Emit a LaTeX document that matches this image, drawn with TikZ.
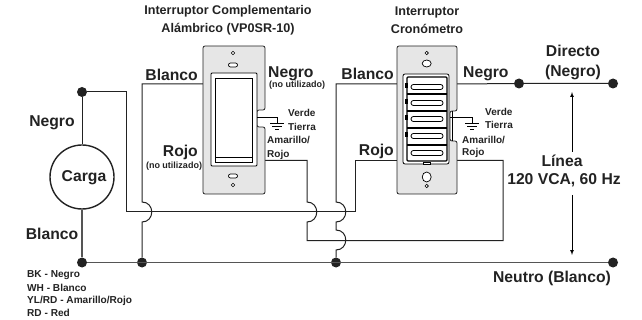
\documentclass[tikz,border=0pt]{standalone}
\usepackage{fontspec}
\setmainfont{Liberation Sans}
\definecolor{plategray}{HTML}{E6E6E6}
\definecolor{inkgray}{HTML}{222222}
\definecolor{wiregray}{HTML}{555555}
\tikzset{
    wire/.style={line width=1pt,draw=inkgray},
    graywire/.style={line width=1.2pt,draw=wiregray},
    dot/.style={circle,fill=inkgray,inner sep=0pt,minimum size=10pt},
    biglabel/.style={inner sep=0pt,text=inkgray,font=\fontsize{15.7}{17}\selectfont\bfseries},
    midlabel/.style={inner sep=0pt,text=inkgray,align=center,font=\fontsize{12.6}{18}\selectfont\bfseries},
    tinylabel/.style={inner sep=0pt,text=inkgray,font=\fontsize{10}{12}\selectfont\bfseries},
    noteline/.style={inner sep=0pt,text=inkgray,font=\fontsize{9}{10}\selectfont\bfseries},
    legendline/.style={inner sep=0pt,anchor=west,text=inkgray,font=\fontsize{10.1}{11}\selectfont\bfseries},
    plate/.style={draw=inkgray,fill=plategray,line width=0.8pt,rounded corners=2pt},
    hop/.style={to path={.. controls +(13,0) and +(13,0) .. (\tikztotarget)}},
}
\begin{document}
\begin{tikzpicture}[x=1pt,y=-1pt]
    \useasboundingbox (0,0) rectangle (642,320);
    % terminals and dots
    \node[dot] (liveload) at (82,92) {};
    \node[dot] (neutload) at (82,262.5) {};
    \node[dot] (neutA) at (142,262.5) {};
    \node[dot] (neutB) at (336,262.5) {};
    \node[dot] (neutend) at (613,262.5) {};
    \node[dot] (liveA) at (519,83.5) {};
    \node[dot] (liveend) at (613,83.5) {};
    \node[circle,draw=inkgray,line width=1.4pt,minimum size=64pt,inner sep=0pt] (load) at (82,177) {};
    \coordinate (compwh) at (204,84);
    \coordinate (compyl) at (264,160.5);
    \coordinate (timewh) at (398,84);
    \coordinate (timebk) at (456,84);
    \coordinate (timerd) at (398,160.5);
    \coordinate (timeyl) at (456,160.5);
    \coordinate (hopAa) at (142,202);
    \coordinate (hopAb) at (142,222);
    \coordinate (hopBa) at (307,202);
    \coordinate (hopBb) at (307,222);
    \coordinate (hopCa) at (336,202);
    \coordinate (hopCb) at (336,222);
    \coordinate (hopDa) at (336,230);
    \coordinate (hopDb) at (336,250);
    \coordinate (loopL) at (126,212);
    \coordinate (loopR) at (355,212);
    \coordinate (lowL) at (307,240.7);
    \coordinate (lowR) at (503,240.7);
    % wires
    \draw[wire] (liveload) -- (load.north);
    \draw[graywire] (load.south) -- (neutload);
    \draw[wire] (liveload) -| (loopL) -- (loopR) |- (timerd);
    \draw[wire] (compwh) -| (hopAa) to[hop] (hopAb) -- (neutA);
    \draw[wire] (compyl) -| (hopBa) to[hop] (hopBb) -- (lowL) -- (lowR) |- (timeyl);
    \draw[wire] (timewh) -| (hopCa) to[hop] (hopCb) -- (hopDa) to[hop] (hopDb) -- (neutB);
    \draw[wire] (timebk) -- (liveA) -- (liveend);
    \draw[graywire] (neutload) -- (neutend);
    % complementary switch
    \draw[plate] (203,46) -- (265,46) -- (265,110) -- (257,110) -- (257,127) -- (265,127) -- (265,194) -- (203,194) -- cycle;
    \draw[fill=white,line width=0.8pt,rounded corners=1pt] (211,73) rectangle (257,166);
    \draw[fill=white,line width=0.8pt] (215,78) rectangle (252,162);
    \draw[line width=0.8pt] (215,157) -- (252,157);
    \draw[fill=white,line width=0.6pt] (233,53) circle (1.7);
    \draw[fill=white,line width=0.6pt] (233,185) circle (1.7);
    \draw[fill=white,line width=0.7pt,rounded corners=2pt] (228.5,63) rectangle (237.5,67);
    \draw[fill=white,line width=0.7pt,rounded corners=2pt] (228.5,174) rectangle (237.5,178);
    % timer switch
    \draw[plate] (397,46) -- (457,46) -- (457,111) -- (450,111) -- (450,141) -- (457,141) -- (457,194) -- (397,194) -- cycle;
    \draw[line width=0.7pt] (452.5,111) -- (452.5,141);
    \draw[fill=white,line width=0.8pt,rounded corners=2pt] (403,74) rectangle (449,164);
    \draw[fill=white,line width=1.2pt,rounded corners=1pt] (407,77) rectangle (447,161);
    \foreach \yy in {94,111,128,145}
        \draw[line width=1.2pt] (407,\yy) -- (447,\yy);
    \foreach \yy in {87,103,119,136,153}
        \draw[fill=white,line width=0.8pt,rounded corners=2.4pt] (411,\yy-2.5) rectangle (443,\yy+2.5);
    \foreach \yy in {86,102,118,135}
        \fill[black] (404.5,\yy-2.5) rectangle (407.5,\yy+2.5);
    \draw[fill=white,line width=0.6pt] (423.5,162) rectangle (430.5,164.5);
    \draw[fill=white,line width=0.6pt] (426.7,53) circle (1.7);
    \draw[fill=white,line width=0.6pt] (426.7,186) circle (1.7);
    \draw[fill=white,line width=0.7pt] (426.7,63.5) ellipse (4.5 and 3.5);
    \draw[fill=white,line width=0.7pt] (426.7,177) ellipse (4.5 and 5);
    % grounds
    \coordinate (gndA) at (277,123);
    \coordinate (gndB) at (472,123);
    \coordinate (gndAw) at (257,117);
    \coordinate (gndBw) at (450,117);
    \draw[line width=0.8pt] (gndAw) -| (gndA);
    \draw[line width=0.8pt] (gndBw) -| (gndB);
    \foreach \gx in {277,472}{
        \draw[line width=0.7pt] (\gx-7,123) -- (\gx+7,123);
        \draw[line width=0.7pt] (\gx-5,126) -- (\gx+5,126);
        \draw[line width=0.7pt] (\gx-2,129) -- (\gx+2,129);
    }
    % line arrows
    \coordinate (arrowT) at (572,92);
    \coordinate (arrowTb) at (572,152);
    \coordinate (arrowBt) at (572,195);
    \coordinate (arrowB) at (572,255);
    \draw[-latex,line width=0.7pt] (arrowTb) -- (arrowT);
    \draw[-latex,line width=0.7pt] (arrowBt) -- (arrowB);
    % labels
    \node[midlabel] (titleA) at (228,20) {Interruptor Complementario\\Al\'ambrico (VP0SR-10)};
    \node[midlabel] (titleB) at (427,20) {Interruptor\\Cron\'ometro};
    \node[biglabel,anchor=east] (wlA) at (198,75) {Blanco};
    \node[biglabel,anchor=west] (blA) at (268,74) {Negro};
    \node[noteline,anchor=west] (noteA) at (269,85) {(no utilizado)};
    \node[biglabel,anchor=east] (rdA) at (198,152) {Rojo};
    \node[noteline] (noteB) at (174,166) {(no utilizado)};
    \node[tinylabel,anchor=west] (grA) at (288,113) {Verde};
    \node[tinylabel,anchor=west] (eaA) at (288,126.5) {Tierra};
    \node[tinylabel,anchor=west] (ylA) at (267,140) {Amarillo/};
    \node[tinylabel,anchor=west] (yrA) at (267,154.5) {Rojo};
    \node[biglabel,anchor=east] (wlB) at (394,74) {Blanco};
    \node[biglabel,anchor=west] (blB) at (463,74) {Negro};
    \node[biglabel,anchor=east] (rdB) at (394,151) {Rojo};
    \node[tinylabel,anchor=west] (grB) at (485,112) {Verde};
    \node[tinylabel,anchor=west] (eaB) at (485,125) {Tierra};
    \node[tinylabel,anchor=west] (ylB) at (462,140) {Amarillo/};
    \node[tinylabel,anchor=west] (yrB) at (462,152.5) {Rojo};
    \node[biglabel] (blLoad) at (52,123) {Negro};
    \node[biglabel] (loadname) at (84,178) {Carga};
    \node[biglabel] (wlLoad) at (52,234) {Blanco};
    \node[biglabel] (direct) at (573,51) {Directo};
    \node[biglabel] (directb) at (573,72) {(Negro)};
    \node[biglabel] (linename) at (562,161) {L\'inea};
    \node[biglabel] (volt) at (564,180) {120 VCA, 60 Hz};
    \node[biglabel] (neutro) at (552,278) {Neutro (Blanco)};
    \node[legendline] (lgA) at (27,275) {BK - Negro};
    \node[legendline] (lgB) at (27,288) {WH - Blanco};
    \node[legendline] (lgC) at (27,300.5) {YL/RD - Amarillo/Rojo};
    \node[legendline] (lgD) at (27,313) {RD - Red};
\end{tikzpicture}
\end{document}
